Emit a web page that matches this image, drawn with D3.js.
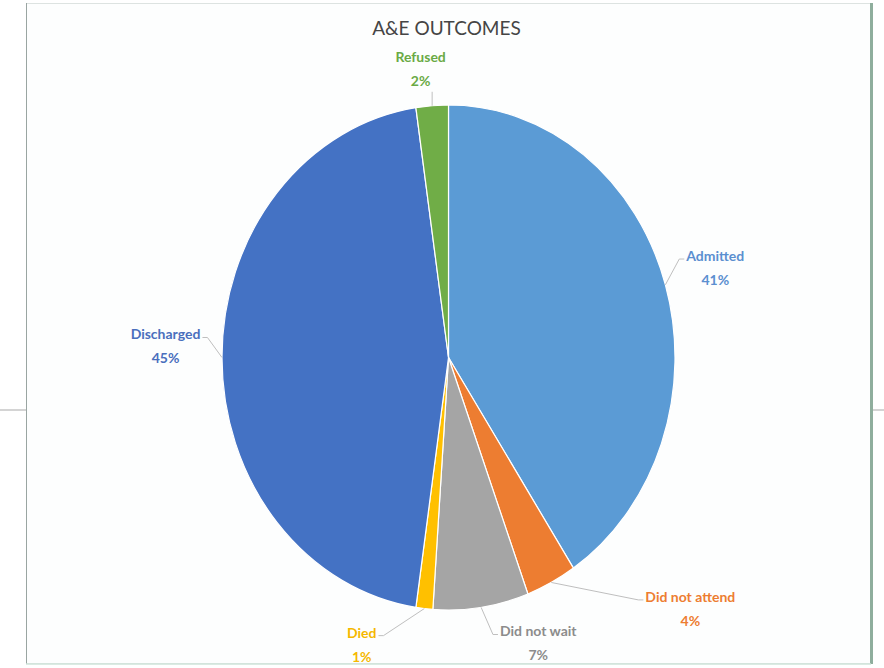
<!DOCTYPE html>
<html>
<head>
<meta charset="utf-8">
<script src="https://cdn.jsdelivr.net/npm/d3@7"></script>
<style>
    body { margin: 0; background: #ffffff; }
    svg { display: block; }
    text { font-family: Lato, "Open Sans", sans-serif; }
</style>
</head>
<body>
<div id="chart"></div>
<script>
(function() {
    // data (share of attendances, %)
    var categories = ["Admitted", "Did not attend", "Did not wait", "Died", "Discharged", "Refused"];
    var values = [40.7, 3.6, 6.8, 1.2, 45.4, 2.3];
    var percentLabels = ["41%", "4%", "7%", "1%", "45%", "2%"];
    var chartTitle = "A&E OUTCOMES";

    var width = 884, height = 668;
    var cx = 448.5, cy = 357.5, rx = 226.5, ry = 252.5;

    var colorScale = d3.scaleOrdinal().domain(categories)
        .range(["#5b9bd5", "#ed7d31", "#a5a5a5", "#ffc000", "#4472c4", "#70ad47"]);
    var labelColor = d3.scaleOrdinal().domain(categories)
        .range(["#5b8fd0", "#ed7d31", "#8c8c8c", "#f5b800", "#4a6fbd", "#6aaa45"]);

    // best-fit label nudges: extra turn (degrees) and radius factor
    var labelLayout = {
        "Admitted": { turn: 0, k: 1.23 },
        "Did not attend": { turn: -20, k: 1.46 },
        "Did not wait": { turn: -11, k: 1.2 },
        "Died": { turn: 12.5, k: 1.2 },
        "Discharged": { turn: 2, k: 1.25 },
        "Refused": { turn: -2, k: 1.15 }
    };

    var svg = d3.select("#chart")
        .append("svg")
        .attr("width", width)
        .attr("height", height);

    // sheet gridline behind the chart
    svg.append("line")
        .attr("x1", 0).attr("x2", width)
        .attr("y1", 410).attr("y2", 410)
        .attr("stroke", "#d4d4d4")
        .attr("stroke-width", 2);

    // chart area
    svg.append("rect")
        .attr("x", 26.5).attr("y", 3.5)
        .attr("width", 844).attr("height", 660)
        .attr("fill", "#fdfefe")
        .attr("stroke", "#dde3e1");
    svg.append("line")
        .attr("x1", 26.5).attr("x2", 26.5).attr("y1", 3).attr("y2", 664)
        .attr("stroke", "#9aa5a2");
    svg.append("line")
        .attr("x1", 871.5).attr("x2", 871.5).attr("y1", 3).attr("y2", 664)
        .attr("stroke", "#8fae9d")
        .attr("stroke-width", 3);
    svg.append("line")
        .attr("x1", 26).attr("x2", 871).attr("y1", 664).attr("y2", 664)
        .attr("stroke", "#cfe5da")
        .attr("stroke-width", 1.5);

    svg.append("text")
        .attr("x", cx - 2)
        .attr("y", 28)
        .attr("dy", "0.35em")
        .attr("text-anchor", "middle")
        .attr("font-size", 19)
        .attr("fill", "#454545")
        .text(chartTitle);

    var datapoints = categories.map(function(c, i) {
        return { name: c, value: values[i], pct: percentLabels[i] };
    });

    var pie = d3.pie().sort(null).value(function(d) { return d.value; });
    var arc = d3.arc().innerRadius(0).outerRadius(rx);
    var arcs = pie(datapoints);

    svg.append("g")
        .attr("transform", "translate(" + cx + "," + cy + ") scale(1," + (ry / rx) + ")")
        .selectAll(".slice")
        .data(arcs)
        .enter().append("path")
        .attr("class", "slice")
        .attr("d", arc)
        .attr("fill", function(d) { return colorScale(d.data.name); })
        .attr("stroke", "#ffffff")
        .attr("stroke-width", 1.2)
        .attr("vector-effect", "non-scaling-stroke");

    function ellipsePoint(angle, k) {
        return [cx + rx * k * Math.sin(angle), cy - ry * k * Math.cos(angle)];
    }

    var labels = svg.append("g").attr("class", "labels");

    arcs.forEach(function(d) {
        var mid = (d.startAngle + d.endAngle) / 2;
        var lay = labelLayout[d.data.name];
        var start = ellipsePoint(mid, 1);
        var c = ellipsePoint(mid + lay.turn * Math.PI / 180, lay.k);

        var g = labels.append("g");
        var t1 = g.append("text")
            .attr("x", c[0]).attr("y", c[1] - 12)
            .attr("dy", "0.35em")
            .attr("text-anchor", "middle")
            .attr("font-size", 14)
            .attr("font-weight", "bold")
            .attr("fill", labelColor(d.data.name))
            .text(d.data.name);
        g.append("text")
            .attr("x", c[0]).attr("y", c[1] + 12)
            .attr("dy", "0.35em")
            .attr("text-anchor", "middle")
            .attr("font-size", 14)
            .attr("font-weight", "bold")
            .attr("fill", labelColor(d.data.name))
            .text(d.data.pct);

        var w = t1.node().getComputedTextLength();
        var pts;
        if (Math.abs(c[0] - start[0]) < 20) {
            pts = [start, [start[0], c[1] + 23]];
        } else if (c[0] > start[0]) {
            var left = c[0] - w / 2;
            pts = [start, [left - 7, c[1] - 9], [left - 2, c[1] - 9]];
        } else {
            var right = c[0] + w / 2;
            pts = [start, [right + 7, c[1] - 9], [right + 2, c[1] - 9]];
        }
        labels.insert("path", ":first-child")
            .attr("d", d3.line()(pts))
            .attr("fill", "none")
            .attr("stroke", "#bfbfbf")
            .attr("stroke-width", 1);
    });
})();
</script>
</body>
</html>
